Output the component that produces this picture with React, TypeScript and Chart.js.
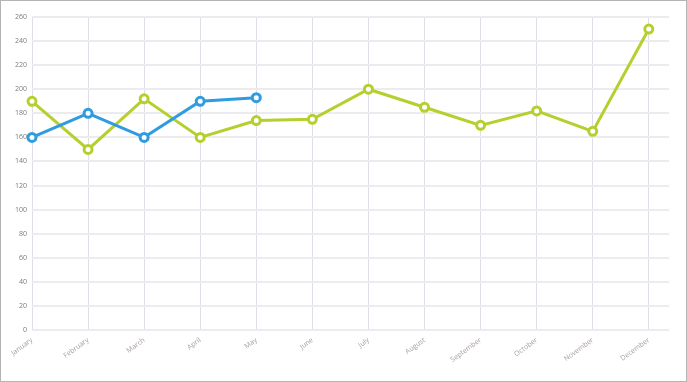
import React, { useEffect, useRef } from "react";
import { Chart, registerables } from "chart.js";

Chart.register(...registerables);

const months = ["January", "February", "March", "April", "May", "June", "July", "August", "September", "October", "November", "December"];
const greenValues = [190, 150, 192, 160, 174, 175, 200, 185, 170, 182, 165, 250];
const blueValues = [160, 180, 160, 190, 193];
const yTicks = [0, 20, 40, 60, 80, 100, 120, 140, 160, 180, 200, 220, 240, 260];

export default function App() {
  const ref = useRef<HTMLCanvasElement>(null);
  useEffect(() => {
    document.body.style.margin = "0";
    const ctx = ref.current!;
    const toPts = (arr: number[]) => arr.map((y, i) => ({ x: i, y }));
    const chart = new Chart(ctx, {
      type: "line",
      data: {
        datasets: [
          {
            label: "A",
            data: toPts(blueValues),
            borderColor: "#2f9be0",
            backgroundColor: "#ffffff",
            borderWidth: 3,
            pointRadius: 4,
            pointBorderWidth: 3,
            pointBackgroundColor: "#ffffff",
            pointBorderColor: "#2f9be0",
            tension: 0,
            clip: false,
          },
          {
            label: "B",
            data: toPts(greenValues),
            borderColor: "#b6cf2e",
            backgroundColor: "#ffffff",
            borderWidth: 3,
            pointRadius: 4,
            pointBorderWidth: 3,
            pointBackgroundColor: "#ffffff",
            pointBorderColor: "#b6cf2e",
            tension: 0,
            clip: false,
          },
        ],
      },
      options: {
        animation: false,
        responsive: true,
        maintainAspectRatio: false,
        layout: { padding: { top: 16, right: 17, left: 0, bottom: 0 } },
        plugins: { legend: { display: false }, tooltip: { enabled: false } },
        scales: {
          x: {
            type: "linear",
            min: 0,
            max: 11.36,
            grid: { color: "#dedee6", lineWidth: 1, drawTicks: false },
            border: { display: false },
            ticks: {
              stepSize: 1,
              includeBounds: false,
              autoSkip: false,
              minRotation: 36,
              maxRotation: 36,
              padding: 6,
              color: "#a89c9c",
              font: { family: "Open Sans", size: 7 },
              callback: (v: any) => (Number.isInteger(v) && v >= 0 && v < months.length ? months[v] : ""),
            },
            afterFit: (s: any) => { s.height = 51; },
          },
          y: {
            min: 0,
            max: 260,
            grid: { color: "#ebebf0", lineWidth: 2, drawTicks: false },
            border: { display: false },
            afterBuildTicks: (s: any) => { s.ticks = yTicks.map((v) => ({ value: v })); },
            ticks: {
              padding: 5,
              color: "#7a7a80",
              font: { family: "Open Sans", size: 7 },
            },
            afterFit: (s: any) => { s.width = 31; },
          },
        },
      },
    });
    return () => chart.destroy();
  }, []);
  return (
    <div
      style={{
        position: "fixed",
        left: 0,
        top: 0,
        width: 687,
        height: 382,
        boxSizing: "border-box",
        border: "1px solid #b4b4b4",
        background: "#fff",
      }}
    >
      <div style={{ position: "relative", width: 685, height: 380 }}>
        <canvas ref={ref} />
      </div>
    </div>
  );
}
